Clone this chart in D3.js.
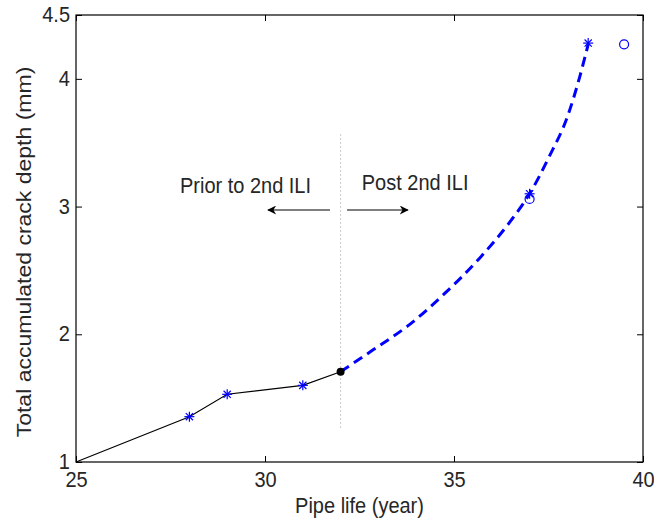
<!DOCTYPE html>
<html><head><meta charset="utf-8">
<script src="https://cdn.jsdelivr.net/npm/d3@7/dist/d3.min.js"></script>
<style>body{margin:0;background:#fff}svg{display:block}text{font-family:"Liberation Sans",Arial,sans-serif;fill:#262626}</style>
</head><body>
<svg id="c" width="654" height="520"></svg>
<script>
// ---- data ----
const xTicks = [25, 30, 35, 40];
const yTicks = [1, 2, 3, 4, 4.5];
const priorYears = [25, 28, 29, 31, 32];
const priorDepth = [1.0, 1.355, 1.53, 1.60, 1.707];
const starYears = [28, 29, 31, 37, 38.55];
const starDepth = [1.355, 1.53, 1.60, 3.10, 4.28];
const forecastYears = [32, 32.87, 33.84, 34.72, 35.69, 36.48, 37, 37.5, 38.02, 38.33, 38.55];
const forecastDepth = [1.707, 1.88, 2.08, 2.31, 2.60, 2.88, 3.10, 3.38, 3.72, 4.02, 4.27];
const circleYears = [37.0, 39.5];
const circleDepth = [3.06, 4.27];
const iliYear = 32, iliDepth = 1.707;
const dividerDepth = [1.27, 3.58];
const arrowLeft = [31.72, 30.08];
const arrowRight = [32.17, 33.78];
const arrowDepth = 2.973;
const labels = {prior: "Prior to 2nd ILI", post: "Post 2nd ILI", x: "Pipe life (year)", y: "Total accumulated crack depth (mm)"};
const labelPos = {prior: [27.75, 3.11], post: [32.56, 3.13]};

// ---- layout ----
const L = 76, R = 643, T = 15, B = 462;
const x = d3.scaleLinear().domain([25, 40]).range([L, R]);
const y = d3.scaleLinear().domain([1, 4.5]).range([B, T]);
const svg = d3.select("#c");
const blue = "#0000ff";
const fs = 20, k = 1.12;

function addText(px, py, str, anchor, rot) {
  const t = svg.append("text").attr("font-size", fs).attr("text-anchor", anchor || "start").text(str);
  if (rot) t.attr("transform", `translate(${px},${py}) rotate(-90) scale(${k + 0.03},1)`);
  else t.attr("transform", `translate(${px},${py}) scale(1,${k})`);
  return t;
}

// axes box
svg.append("rect").attr("x", L).attr("y", T).attr("width", R - L).attr("height", B - T)
  .attr("fill", "none").attr("stroke", "#000").attr("stroke-width", 1.2);

const tl = 6;
const xb = svg.append("g").attr("transform", `translate(0,${B})`)
  .call(d3.axisBottom(x).tickValues(xTicks).tickSizeInner(-tl).tickSizeOuter(0).tickFormat(d3.format("d")));
const xt = svg.append("g").attr("transform", `translate(0,${T})`)
  .call(d3.axisTop(x).tickValues(xTicks).tickSizeInner(-tl).tickSizeOuter(0).tickFormat(""));
const yl = svg.append("g").attr("transform", `translate(${L},0)`)
  .call(d3.axisLeft(y).tickValues(yTicks).tickSizeInner(-tl).tickSizeOuter(0).tickFormat(d => String(d)));
const yr = svg.append("g").attr("transform", `translate(${R},0)`)
  .call(d3.axisRight(y).tickValues(yTicks).tickSizeInner(-tl).tickSizeOuter(0).tickFormat(""));
[xb, xt, yl, yr].forEach(g => {
  g.select(".domain").remove();
  g.selectAll("line").attr("stroke", "#000");
  g.selectAll("text").attr("font-size", fs).attr("font-family", '"Liberation Sans",Arial,sans-serif').attr("fill", "#262626");
});
xb.selectAll(".tick text").attr("y", 0).attr("dy", 0).attr("transform", `translate(0,${487 - B}) scale(1,${k})`);
yl.selectAll(".tick text").attr("x", 0).attr("dy", 0).attr("transform", `translate(-6,6.5) scale(1,${k})`);

// axis labels
addText((L + R) / 2, 513, labels.x, "middle");
addText(31, 252, labels.y, "middle", true);

// divider
svg.append("line").attr("x1", x(iliYear)).attr("x2", x(iliYear)).attr("y1", y(dividerDepth[0])).attr("y2", y(dividerDepth[1]))
  .attr("stroke", "#999").attr("stroke-width", 1).attr("stroke-dasharray", "1,3");

// arrows
const defs = svg.append("defs");
defs.append("marker").attr("id", "ah").attr("viewBox", "0 0 10 10").attr("refX", 9).attr("refY", 5)
  .attr("markerWidth", 15).attr("markerHeight", 9).attr("markerUnits", "userSpaceOnUse").attr("orient", "auto")
  .append("path").attr("d", "M0,0 L10,5 L0,10 L3,5 Z").attr("fill", "#000");
[arrowLeft, arrowRight].forEach(a => {
  svg.append("line").attr("x1", x(a[0])).attr("x2", x(a[1])).attr("y1", y(arrowDepth)).attr("y2", y(arrowDepth))
    .attr("stroke", "#000").attr("stroke-width", 1.2).attr("marker-end", "url(#ah)");
});
addText(x(labelPos.prior[0]), y(labelPos.prior[1]), labels.prior);
addText(x(labelPos.post[0]), y(labelPos.post[1]), labels.post);

// prior line
const pts = (xs, ys) => xs.map((v, i) => [v, ys[i]]);
svg.append("path").datum(pts(priorYears, priorDepth))
  .attr("d", d3.line().x(d => x(d[0])).y(d => y(d[1])))
  .attr("fill", "none").attr("stroke", "#000").attr("stroke-width", 1.1);

// forecast dashed
svg.append("path").datum(pts(forecastYears, forecastDepth))
  .attr("d", d3.line().x(d => x(d[0])).y(d => y(d[1])).curve(d3.curveMonotoneX))
  .attr("fill", "none").attr("stroke", blue).attr("stroke-width", 3).attr("stroke-dasharray", "10,6");

// ILI dot
svg.append("circle").attr("cx", x(iliYear)).attr("cy", y(iliDepth)).attr("r", 4).attr("fill", "#000");

// star markers
const s = 5;
pts(starYears, starDepth).forEach(d => {
  const cx = x(d[0]), cy = y(d[1]);
  const g = svg.append("g").attr("stroke", blue).attr("stroke-width", 1.2);
  g.append("line").attr("x1", cx - s).attr("x2", cx + s).attr("y1", cy).attr("y2", cy);
  g.append("line").attr("x1", cx).attr("x2", cx).attr("y1", cy - s).attr("y2", cy + s);
  g.append("line").attr("x1", cx - s * 0.72).attr("x2", cx + s * 0.72).attr("y1", cy - s * 0.72).attr("y2", cy + s * 0.72);
  g.append("line").attr("x1", cx - s * 0.72).attr("x2", cx + s * 0.72).attr("y1", cy + s * 0.72).attr("y2", cy - s * 0.72);
});

// circle markers
svg.selectAll("circle.o").data(pts(circleYears, circleDepth)).join("circle").attr("class", "o")
  .attr("cx", d => x(d[0])).attr("cy", d => y(d[1])).attr("r", 4.5)
  .attr("fill", "none").attr("stroke", blue).attr("stroke-width", 1.2);
</script>
</body></html>
